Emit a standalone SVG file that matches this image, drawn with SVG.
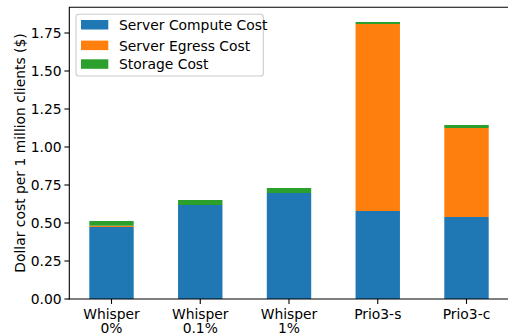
<svg xmlns="http://www.w3.org/2000/svg" width="508" height="333" viewBox="0 0 508 333">
<style>
text{font-family:"DejaVu Sans",Verdana,sans-serif;font-size:13.89px;fill:#000}
.c{fill:#1f77b4}.e{fill:#ff7f0e}.s{fill:#2ca02c}
.ax{stroke:#000;stroke-width:1.1;fill:none;stroke-linecap:square}
.tk{stroke:#000;stroke-width:1.1}
.yl{text-anchor:end}.xl{text-anchor:middle}
</style>
<rect width="508" height="333" fill="#fff"/>
<g id="bars">
<g id="whisper0">
<rect class="c" x="89.3" y="227" width="44.4" height="72"/>
<rect class="e" x="89.3" y="225.7" width="44.4" height="1.3"/>
<rect class="s" x="89.3" y="221" width="44.4" height="4.7"/>
</g>
<g id="whisper01">
<rect class="c" x="178.05" y="205" width="44.4" height="94"/>
<rect class="s" x="178.05" y="200" width="44.4" height="5"/>
</g>
<g id="whisper1">
<rect class="c" x="266.8" y="193" width="44.4" height="106"/>
<rect class="s" x="266.8" y="188" width="44.4" height="5"/>
</g>
<g id="prio3s">
<rect class="c" x="355.55" y="211" width="44.4" height="88"/>
<rect class="e" x="355.55" y="24" width="44.4" height="187"/>
<rect class="s" x="355.55" y="22" width="44.4" height="2"/>
</g>
<g id="prio3c">
<rect class="c" x="444.3" y="217" width="44.4" height="82"/>
<rect class="e" x="444.3" y="128" width="44.4" height="89"/>
<rect class="s" x="444.3" y="125" width="44.4" height="3"/>
</g>
</g>
<g id="axes">
<path class="ax" d="M69.3,299 V7.3 H510"/>
<path class="ax" d="M69.3,299 H510"/>
<g id="yticks">
<line class="tk" x1="64.4" y1="299" x2="69.3" y2="299"/>
<line class="tk" x1="64.4" y1="261" x2="69.3" y2="261"/>
<line class="tk" x1="64.4" y1="223" x2="69.3" y2="223"/>
<line class="tk" x1="64.4" y1="185" x2="69.3" y2="185"/>
<line class="tk" x1="64.4" y1="147" x2="69.3" y2="147"/>
<line class="tk" x1="64.4" y1="109" x2="69.3" y2="109"/>
<line class="tk" x1="64.4" y1="71" x2="69.3" y2="71"/>
<line class="tk" x1="64.4" y1="33" x2="69.3" y2="33"/>
<text class="yl" x="61.7" y="304">0.00</text>
<text class="yl" x="61.7" y="266">0.25</text>
<text class="yl" x="61.7" y="228">0.50</text>
<text class="yl" x="61.7" y="190">0.75</text>
<text class="yl" x="61.7" y="152">1.00</text>
<text class="yl" x="61.7" y="114">1.25</text>
<text class="yl" x="61.7" y="76">1.50</text>
<text class="yl" x="61.7" y="38">1.75</text>
</g>
<g id="xticks">
<line class="tk" x1="111.5" y1="299" x2="111.5" y2="303.9"/>
<line class="tk" x1="200.25" y1="299" x2="200.25" y2="303.9"/>
<line class="tk" x1="289" y1="299" x2="289" y2="303.9"/>
<line class="tk" x1="377.75" y1="299" x2="377.75" y2="303.9"/>
<line class="tk" x1="466.5" y1="299" x2="466.5" y2="303.9"/>
<text class="xl" x="111.5" y="318.5">Whisper<tspan x="111.5" y="333.3">0%</tspan></text>
<text class="xl" x="200.25" y="318.5">Whisper<tspan x="200.25" y="333.3">0.1%</tspan></text>
<text class="xl" x="289" y="318.5">Whisper<tspan x="289" y="333.3">1%</tspan></text>
<text class="xl" x="377.75" y="318.5">Prio3-s</text>
<text class="xl" x="466.5" y="318.5">Prio3-c</text>
</g>
<text transform="translate(24.5,153) rotate(-90)" text-anchor="middle">Dollar cost per 1 million clients ($)</text>
</g>
<g id="legend">
<rect x="76" y="14.3" width="187.3" height="61.7" rx="2.8" fill="#fff" fill-opacity="0.8" stroke="#cccccc" stroke-width="1.1"/>
<rect class="c" x="81" y="20" width="27.3" height="9.5"/>
<rect class="e" x="81" y="40.6" width="27.3" height="9.5"/>
<rect class="s" x="81" y="59.3" width="27.3" height="9.5"/>
<text x="119" y="30.3">Server Compute Cost</text>
<text x="119" y="50.5">Server Egress Cost</text>
<text x="119" y="69.3">Storage Cost</text>
</g>
</svg>
